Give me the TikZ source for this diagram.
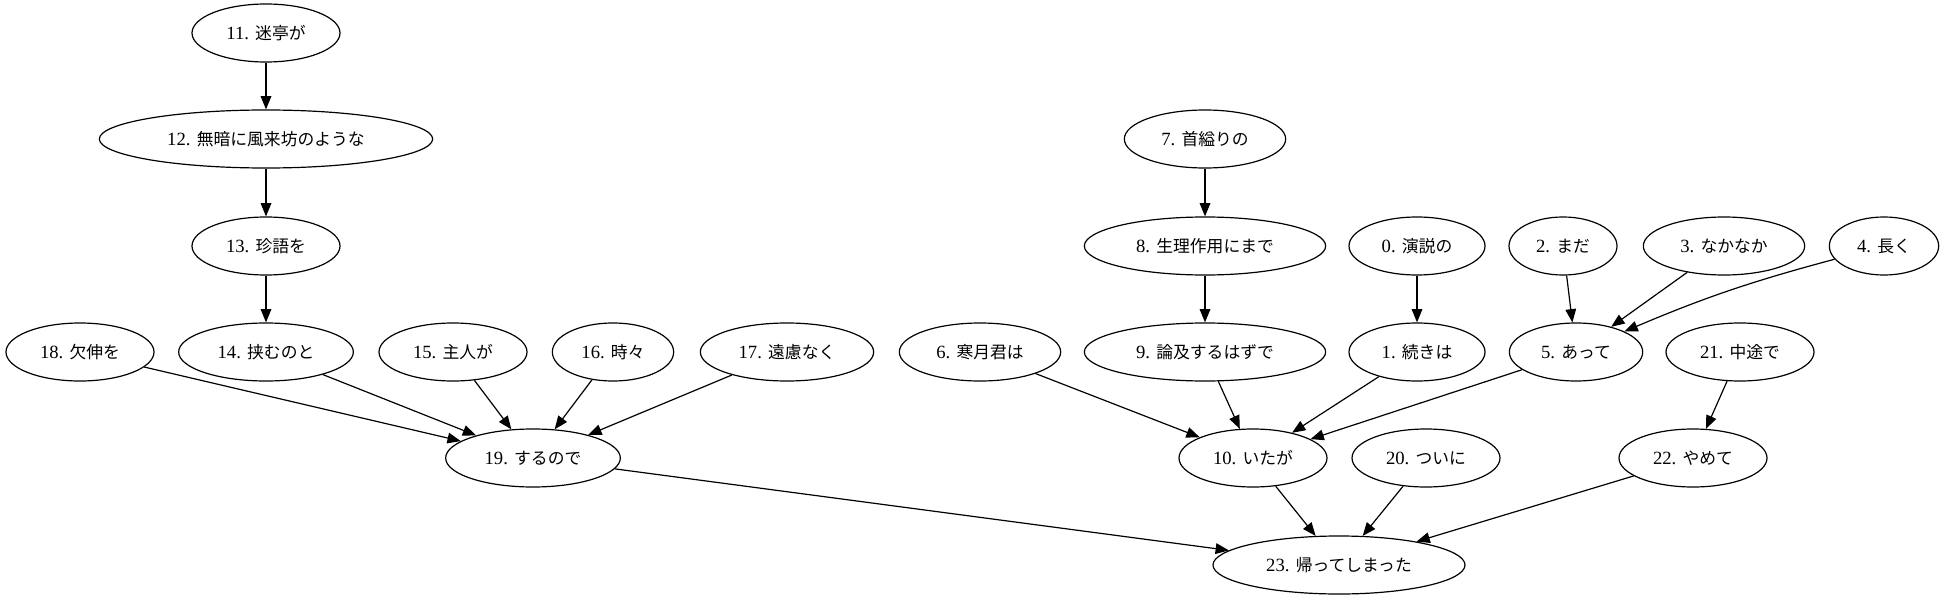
\documentclass[tikz,border=0pt]{standalone}
\usepackage{fontspec}
\setmainfont{Liberation Serif}
\newfontfamily\jp[Scale=0.9]{Noto Sans CJK JP}
\usetikzlibrary{shapes.geometric,arrows.meta}

\begin{document}
\begin{tikzpicture}[x=0.75pt,y=-0.75pt,main/.style = {draw, ellipse, inner sep=0pt, minimum height=43.5pt, font=\fontsize{14}{16}\selectfont},>={Triangle[length=10pt,width=8pt]},line width=0.9pt]
        \useasboundingbox (0,0) rectangle (1944,599);
        \node[main, minimum width=111pt] (11) at (266,33) {11. \jp 迷亭が};
        \node[main, minimum width=250pt] (12) at (266,139) {12. \jp 無暗に風来坊のような};
        \node[main, minimum width=111pt] (13) at (266,246) {13. \jp 珍語を};
        \node[main, minimum width=121pt] (7) at (1205,139) {7. \jp 首縊りの};
        \node[main, minimum width=181pt] (8) at (1205,246) {8. \jp 生理作用にまで};
        \node[main, minimum width=102pt] (0) at (1417,246) {0. \jp 演説の};
        \node[main, minimum width=81pt] (2) at (1563,246) {2. \jp まだ};
        \node[main, minimum width=121pt] (3) at (1724,246) {3. \jp なかなか};
        \node[main, minimum width=82pt] (4) at (1884,246) {4. \jp 長く};
        \node[main, minimum width=111pt] (18) at (80,352) {18. \jp 欠伸を};
        \node[main, minimum width=131pt] (14) at (266,352) {14. \jp 挟むのと};
        \node[main, minimum width=111pt] (15) at (453,352) {15. \jp 主人が};
        \node[main, minimum width=91pt] (16) at (613,352) {16. \jp 時々};
        \node[main, minimum width=130pt] (17) at (787,352) {17. \jp 遠慮なく};
        \node[main, minimum width=121pt] (6) at (980,352) {6. \jp 寒月君は};
        \node[main, minimum width=181pt] (9) at (1205,352) {9. \jp 論及するはずで};
        \node[main, minimum width=102pt] (1) at (1417,352) {1. \jp 続きは};
        \node[main, minimum width=100pt] (5) at (1576,352) {5. \jp あって};
        \node[main, minimum width=111pt] (21) at (1740,352) {21. \jp 中途で};
        \node[main, minimum width=131pt] (19) at (533,458) {19. \jp するので};
        \node[main, minimum width=111pt] (10) at (1253,458) {10. \jp いたが};
        \node[main, minimum width=111pt] (20) at (1426,458) {20. \jp ついに};
        \node[main, minimum width=111pt] (22) at (1693,458) {22. \jp やめて};
        \node[main, minimum width=189pt] (23) at (1339,565) {23. \jp 帰ってしまった};
        \draw[->] (11) -- (12);
        \draw[->] (12) -- (13);
        \draw[->] (13) -- (14);
        \draw[->] (18) -- (19);
        \draw[->] (14) -- (19);
        \draw[->] (15) -- (19);
        \draw[->] (16) -- (19);
        \draw[->] (17) -- (19);
        \draw[->] (19) -- (23);
        \draw[->] (7) -- (8);
        \draw[->] (8) -- (9);
        \draw[->] (0) -- (1);
        \draw[->] (2) -- (5);
        \draw[->] (3) -- (5);
        \draw[->] (4) to[bend right=4] (5);
        \draw[->] (6) -- (10);
        \draw[->] (9) -- (10);
        \draw[->] (1) -- (10);
        \draw[->] (5) -- (10);
        \draw[->] (10) -- (23);
        \draw[->] (20) -- (23);
        \draw[->] (21) -- (22);
        \draw[->] (22) -- (23);
    \end{tikzpicture}
\end{document}
